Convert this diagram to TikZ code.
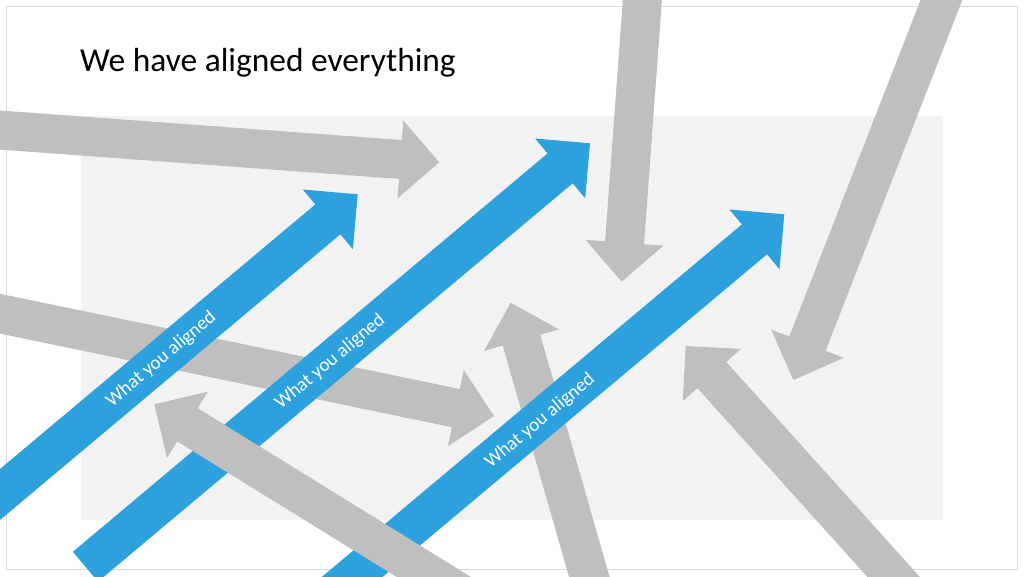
\documentclass[tikz,border=0pt]{standalone}
\usepackage{fontspec}
\setmainfont{Carlito}
\definecolor{panelgray}{HTML}{F2F2F2}
\definecolor{bordergray}{HTML}{D9D9D9}
\definecolor{arrowgray}{HTML}{BFBFBF}
\definecolor{arrowblue}{HTML}{2CA1DD}
\tikzset{
  grayarrow/.style={fill=arrowgray},
  bluearrow/.style={fill=arrowblue},
  lbl/.style={text=white, inner sep=0pt, rotate=40, font=\fontsize{19.2}{23}\selectfont},
}
% #1,#2 tip position, #3 angle, #4 length, #5 style
\newcommand\slidearrow[5]{%
  \fill[#5, shift={(#1,#2)}, rotate=#3]
    (0,0) -- (-39,39) -- (-39,19.5) -- (-#4,19.5) -- (-#4,-19.5) -- (-39,-19.5) -- (-39,-39) -- cycle;}
\begin{document}
\begin{tikzpicture}[x=1pt,y=-1pt]
\useasboundingbox (0,0) rectangle (1024,576);
\clip (0,0) rectangle (1024,576);
\fill[white] (0,0) rectangle (1024,576);
\fill[panelgray] (81,116) rectangle (943,520);
\draw[bordergray, line width=1pt] (6,6) rectangle (1017,569);
\node[anchor=base west, inner sep=0pt, font=\fontsize{33.4}{40}\selectfont] (title) at (80,71.7) {We have aligned everything};
% gray arrows underneath
\slidearrow{439.3}{162.3}{-4.2}{600}{grayarrow}
\slidearrow{494}{416}{-11.7}{700}{grayarrow}
\slidearrow{621.7}{281.7}{-94.2}{400}{grayarrow}
\slidearrow{793.3}{380}{-111.3}{500}{grayarrow}
\slidearrow{510.7}{302.7}{106}{400}{grayarrow}
\slidearrow{685.7}{346}{132}{400}{grayarrow}
% blue arrows
\slidearrow{357.7}{194.3}{40}{900}{bluearrow}
\slidearrow{590}{143.3}{40}{658.7}{bluearrow}
\slidearrow{784.3}{214.3}{40}{900}{bluearrow}
\node[lbl] (l1) at (161.3,359.2) {What you aligned};
\node[lbl] (l2) at (330.3,361.7) {What you aligned};
\node[lbl] (l3) at (540,421) {What you aligned};
% gray arrow on top
\slidearrow{154.3}{404.3}{148.3}{500}{grayarrow}
\end{tikzpicture}
\end{document}
